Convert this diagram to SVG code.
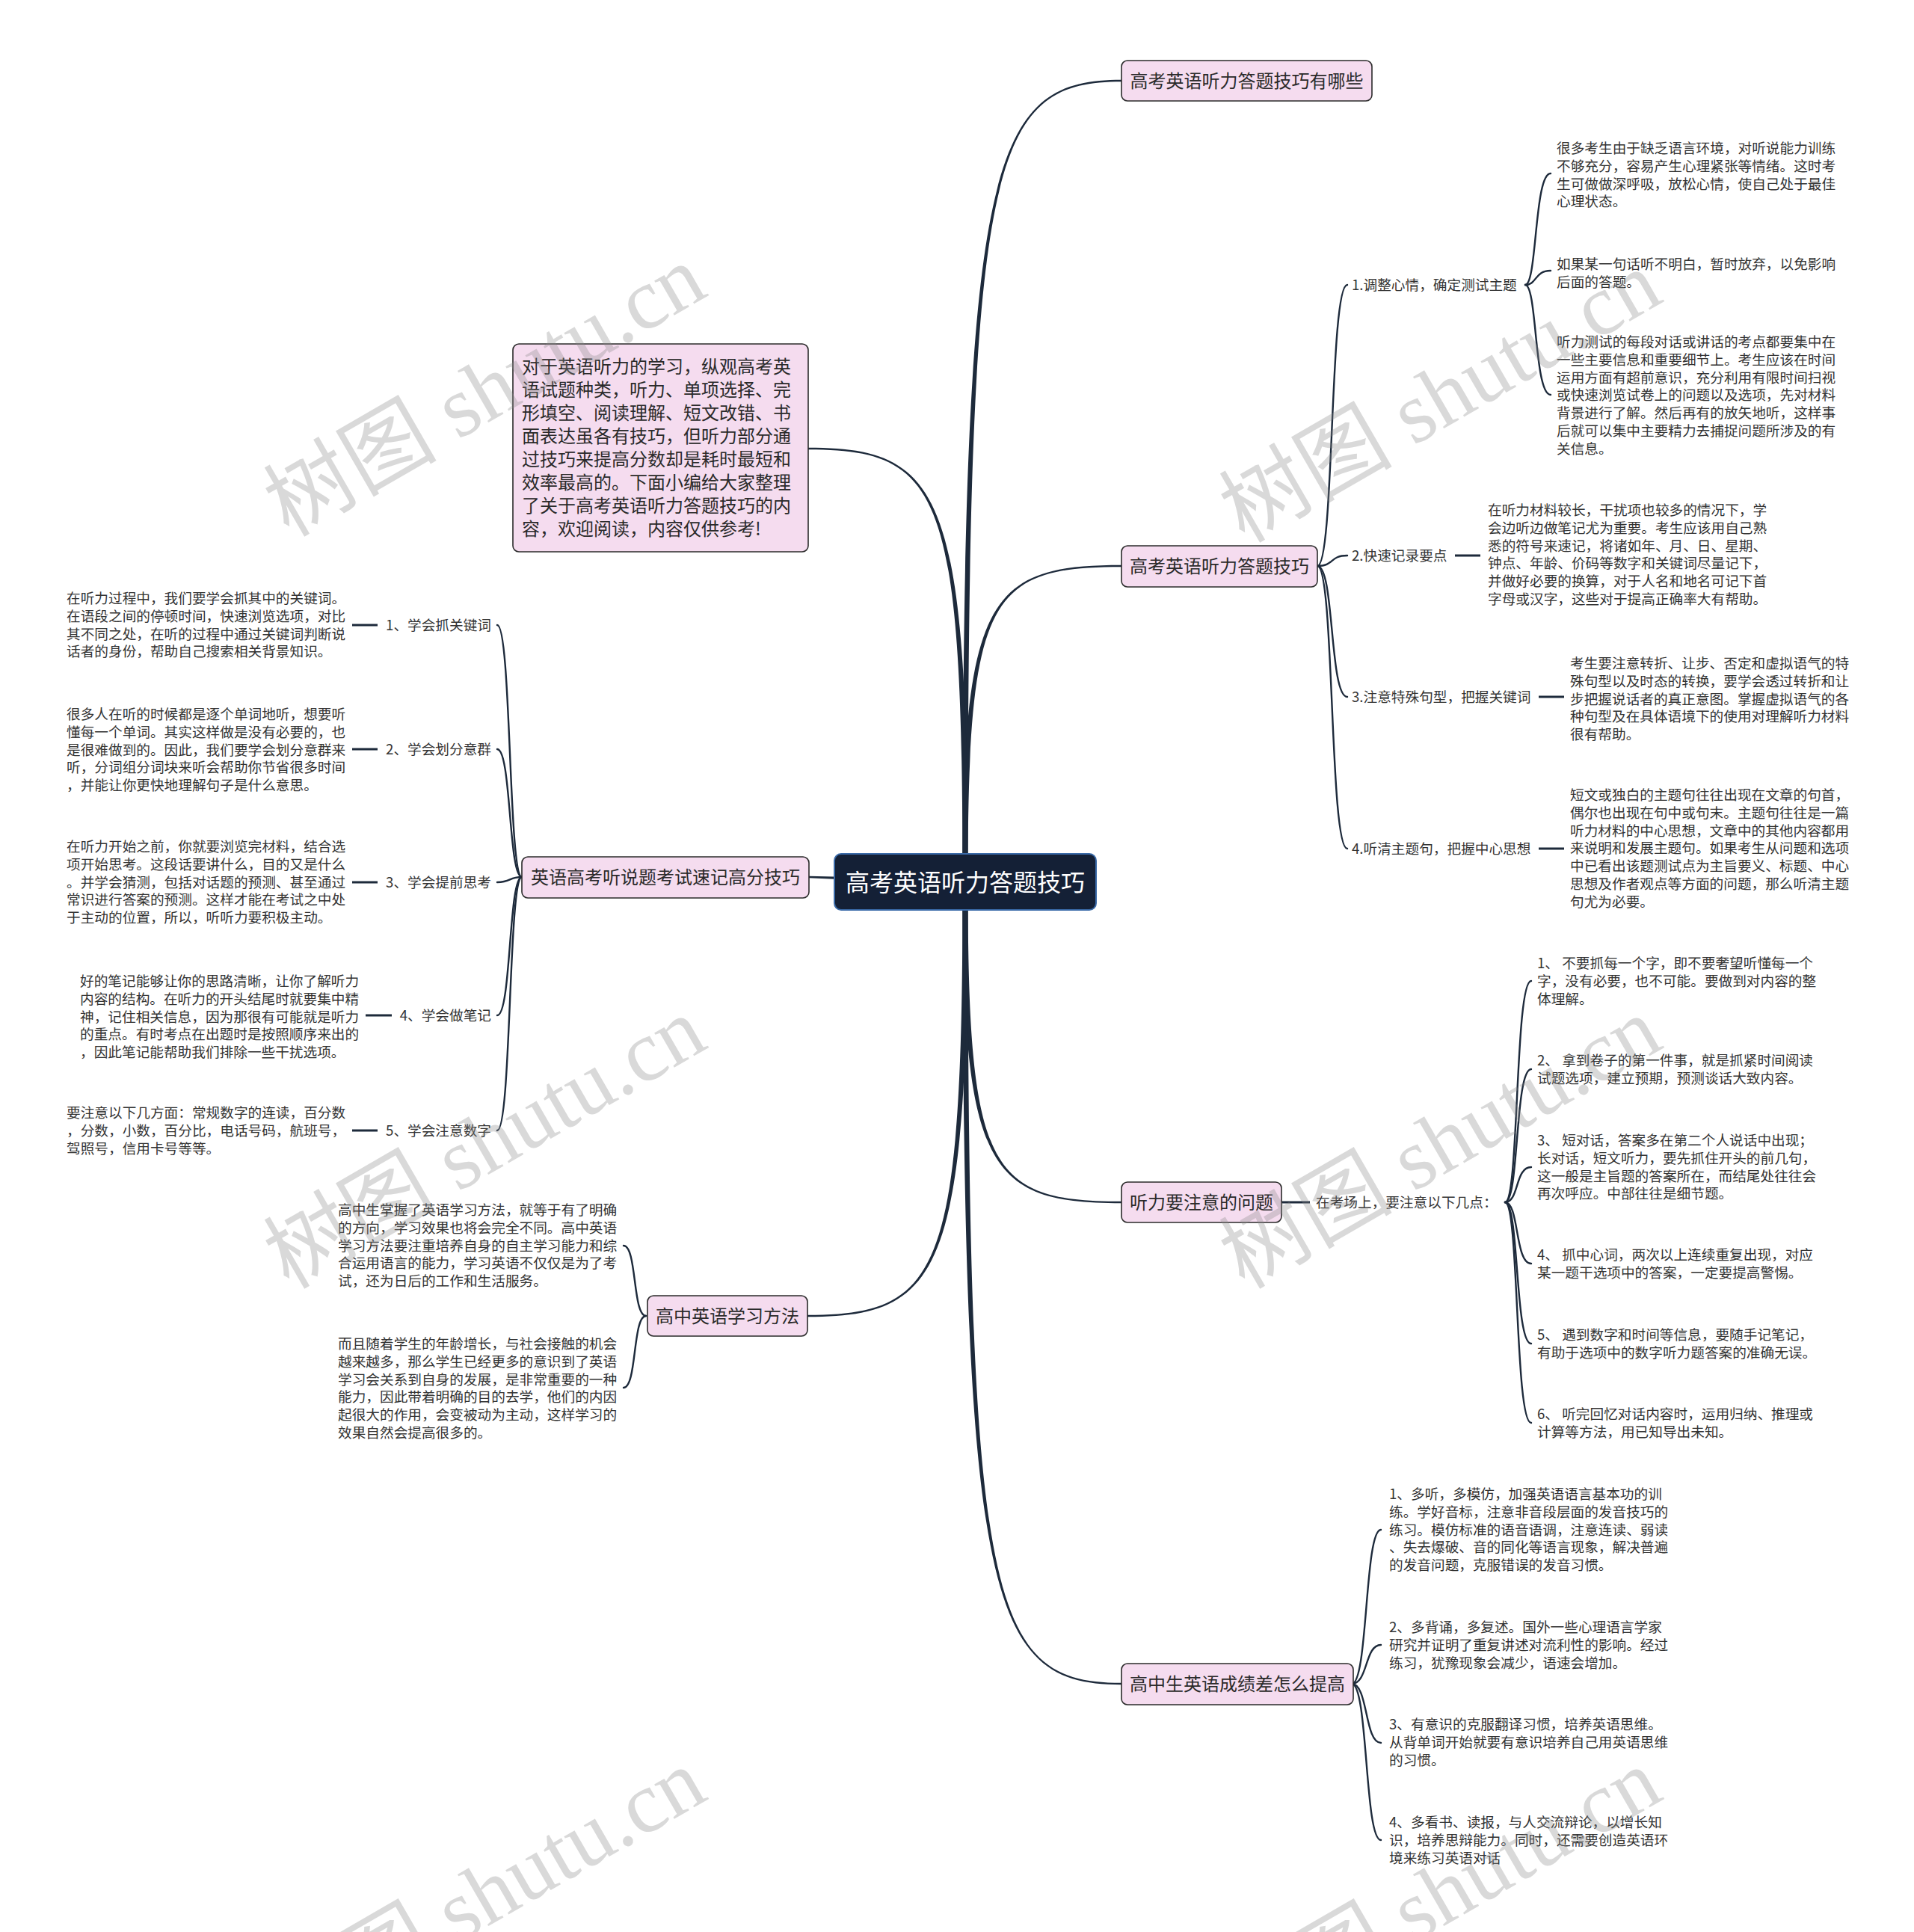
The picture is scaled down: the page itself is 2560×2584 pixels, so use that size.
<svg xmlns="http://www.w3.org/2000/svg" width="2560" height="2584" viewBox="0 0 2560 2584">
<style>
text{font-family:"Noto Sans CJK SC","Noto Sans",sans-serif}
.leaf{font-size:18.67px;fill:#333}
.lbl{font-size:18.67px;fill:#333}
.nt{font-size:24px;fill:#2a2a2a}
.box{fill:#f5dcef;stroke:#2b2b2b;stroke-width:1.6}
.tp{fill:#1d2a3b}
.ln{fill:none;stroke:#1d2a3b;stroke-width:2.4;stroke-linecap:round}
.dash{fill:none;stroke:#1d2a3b;stroke-width:3}
.wm{font-family:"Liberation Serif","Noto Sans CJK SC",serif;font-size:116px;fill:#8a8a8a;fill-opacity:0.32}
</style>
<rect width="2560" height="2584" fill="#fff"/>
<g id="connectors">
<path class="tp" d="M1287.5,1180 C1287.5,215 1322,106.8 1500,106.8 L1500,109.2 C1322,109.2 1294.5,215 1294.5,1180 Z"/>
<path class="tp" d="M1287.5,1180 C1287.5,799 1322,755.8 1500,755.8 L1500,758.2 C1322,758.2 1294.5,799 1294.5,1180 Z"/>
<path class="tp" d="M1287.5,1180 C1287.5,1565 1322,1609.2 1500,1609.2 L1500,1606.8 C1322,1606.8 1294.5,1565 1294.5,1180 Z"/>
<path class="tp" d="M1287.5,1180 C1287.5,2145 1322,2253.2 1500,2253.2 L1500,2250.8 C1322,2250.8 1294.5,2145 1294.5,1180 Z"/>
<path class="tp" d="M1294.5,1180 C1294.5,658 1259.5,598.8 1081,598.8 L1081,601.2 C1259.5,601.2 1287.5,658 1287.5,1180 Z"/>
<path class="tp" d="M1294.5,1180 C1294.5,1702 1259.5,1761.2 1080,1761.2 L1080,1758.8 C1259.5,1758.8 1287.5,1702 1287.5,1180 Z"/>
<path class="tp" d="M1291,1176.5 L1082,1171.8 L1082,1174.2 L1291,1183.5 Z"/>
<path class="ln" d="M1762,757 C1785,757 1778,381 1802,381"/>
<path class="ln" d="M1762,757 C1785,757 1778,743 1802,743"/>
<path class="ln" d="M1762,757 C1785,757 1778,932 1802,932"/>
<path class="ln" d="M1762,757 C1785,757 1778,1135 1802,1135"/>
<path class="ln" d="M2040,381 C2056,381 2052,232 2074,232"/>
<path class="ln" d="M2040,381 C2056,381 2052,362 2074,362"/>
<path class="ln" d="M2040,381 C2056,381 2052,528 2074,528"/>
<path class="dash" d="M1946,743 H1980"/>
<path class="dash" d="M2058,932 H2092"/>
<path class="dash" d="M2058,1135 H2092"/>
<path class="dash" d="M1714,1608 H1752"/>
<path class="ln" d="M2013,1608 C2032,1608 2026,1312 2048,1312"/>
<path class="ln" d="M2013,1608 C2032,1608 2026,1430 2048,1430"/>
<path class="ln" d="M2013,1608 C2032,1608 2026,1561 2048,1561"/>
<path class="ln" d="M2013,1608 C2032,1608 2026,1690 2048,1690"/>
<path class="ln" d="M2013,1608 C2032,1608 2026,1797 2048,1797"/>
<path class="ln" d="M2013,1608 C2032,1608 2026,1903 2048,1903"/>
<path class="ln" d="M1808,2252 C1830,2252 1825,2046 1847,2046"/>
<path class="ln" d="M1808,2252 C1830,2252 1825,2200 1847,2200"/>
<path class="ln" d="M1808,2252 C1830,2252 1825,2331 1847,2331"/>
<path class="ln" d="M1808,2252 C1830,2252 1825,2461 1847,2461"/>
<path class="ln" d="M698,1173 C680,1173 684,836 665,836"/>
<path class="ln" d="M698,1173 C680,1173 684,1002 665,1002"/>
<path class="ln" d="M698,1173 C680,1173 684,1180 665,1180"/>
<path class="ln" d="M698,1173 C680,1173 684,1358 665,1358"/>
<path class="ln" d="M698,1173 C680,1173 684,1512 665,1512"/>
<path class="dash" d="M471,836 H505"/>
<path class="dash" d="M471,1002 H505"/>
<path class="dash" d="M471,1180 H505"/>
<path class="dash" d="M489,1358 H524"/>
<path class="dash" d="M471,1512 H505"/>
<path class="ln" d="M864,1760 C846,1760 852,1666 834,1666"/>
<path class="ln" d="M864,1760 C846,1760 852,1856 834,1856"/>
</g>

<g id="center">
<rect x="1116" y="1142" width="350" height="75" rx="9" fill="#142036" stroke="#3a6aa8" stroke-width="2"/>
<text x="1291" y="1192" text-anchor="middle" font-size="32" fill="#fff">高考英语听力答题技巧</text>
</g>

<g id="n-r1">
<rect class="box" x="1500" y="81" width="335" height="54" rx="8"/>
<text class="nt" x="1667.5" y="117" text-anchor="middle">高考英语听力答题技巧有哪些</text>
</g>

<g id="n-r2">
<rect class="box" x="1500" y="730" width="262" height="55" rx="8"/>
<text class="nt" x="1631" y="766" text-anchor="middle">高考英语听力答题技巧</text>
</g>
<g id="r2-l1">
<text class="lbl" x="1808" y="388">1.调整心情，确定测试主题</text>
</g>
<g id="r2-l1-a">
<text class="leaf" x="2082" y="205"><tspan x="2082">很多考生由于缺乏语言环境，对听说能力训练</tspan><tspan x="2082" dy="23.8">不够充分，容易产生心理紧张等情绪。这时考</tspan><tspan x="2082" dy="23.8">生可做做深呼吸，放松心情，使自己处于最佳</tspan><tspan x="2082" dy="23.8">心理状态。</tspan></text>
</g>
<g id="r2-l1-b">
<text class="leaf" x="2082" y="360"><tspan x="2082">如果某一句话听不明白，暂时放弃，以免影响</tspan><tspan x="2082" dy="23.8">后面的答题。</tspan></text>
</g>
<g id="r2-l1-c">
<text class="leaf" x="2082" y="464"><tspan x="2082">听力测试的每段对话或讲话的考点都要集中在</tspan><tspan x="2082" dy="23.8">一些主要信息和重要细节上。考生应该在时间</tspan><tspan x="2082" dy="23.8">运用方面有超前意识，充分利用有限时间扫视</tspan><tspan x="2082" dy="23.8">或快速浏览试卷上的问题以及选项，先对材料</tspan><tspan x="2082" dy="23.8">背景进行了解。然后再有的放矢地听，这样事</tspan><tspan x="2082" dy="23.8">后就可以集中主要精力去捕捉问题所涉及的有</tspan><tspan x="2082" dy="23.8">关信息。</tspan></text>
</g>
<g id="r2-l2">
<text class="lbl" x="1808" y="750">2.快速记录要点</text>
</g>
<g id="r2-l2-a">
<text class="leaf" x="1990" y="689"><tspan x="1990">在听力材料较长，干扰项也较多的情况下，学</tspan><tspan x="1990" dy="23.8">会边听边做笔记尤为重要。考生应该用自己熟</tspan><tspan x="1990" dy="23.8">悉的符号来速记，将诸如年、月、日、星期、</tspan><tspan x="1990" dy="23.8">钟点、年龄、价码等数字和关键词尽量记下，</tspan><tspan x="1990" dy="23.8">并做好必要的换算，对于人名和地名可记下首</tspan><tspan x="1990" dy="23.8">字母或汉字，这些对于提高正确率大有帮助。</tspan></text>
</g>
<g id="r2-l3">
<text class="lbl" x="1808" y="939">3.注意特殊句型，把握关键词</text>
</g>
<g id="r2-l3-a">
<text class="leaf" x="2100" y="894"><tspan x="2100">考生要注意转折、让步、否定和虚拟语气的特</tspan><tspan x="2100" dy="23.8">殊句型以及时态的转换，要学会透过转折和让</tspan><tspan x="2100" dy="23.8">步把握说话者的真正意图。掌握虚拟语气的各</tspan><tspan x="2100" dy="23.8">种句型及在具体语境下的使用对理解听力材料</tspan><tspan x="2100" dy="23.8">很有帮助。</tspan></text>
</g>
<g id="r2-l4">
<text class="lbl" x="1808" y="1142">4.听清主题句，把握中心思想</text>
</g>
<g id="r2-l4-a">
<text class="leaf" x="2100" y="1070"><tspan x="2100">短文或独白的主题句往往出现在文章的句首，</tspan><tspan x="2100" dy="23.8">偶尔也出现在句中或句末。主题句往往是一篇</tspan><tspan x="2100" dy="23.8">听力材料的中心思想，文章中的其他内容都用</tspan><tspan x="2100" dy="23.8">来说明和发展主题句。如果考生从问题和选项</tspan><tspan x="2100" dy="23.8">中已看出该题测试点为主旨要义、标题、中心</tspan><tspan x="2100" dy="23.8">思想及作者观点等方面的问题，那么听清主题</tspan><tspan x="2100" dy="23.8">句尤为必要。</tspan></text>
</g>

<g id="n-r3">
<rect class="box" x="1500" y="1581" width="214" height="54" rx="8"/>
<text class="nt" x="1607" y="1617" text-anchor="middle">听力要注意的问题</text>
</g>
<g id="r3-l1">
<text class="lbl" x="1760" y="1615">在考场上，要注意以下几点：</text>
</g>
<g id="r3-c1"><text class="leaf" x="2056" y="1295"><tspan x="2056">1、 不要抓每一个字，即不要奢望听懂每一个</tspan><tspan x="2056" dy="23.8">字，没有必要，也不可能。要做到对内容的整</tspan><tspan x="2056" dy="23.8">体理解。</tspan></text></g>
<g id="r3-c2"><text class="leaf" x="2056" y="1425"><tspan x="2056">2、 拿到卷子的第一件事，就是抓紧时间阅读</tspan><tspan x="2056" dy="23.8">试题选项，建立预期，预测谈话大致内容。</tspan></text></g>
<g id="r3-c3"><text class="leaf" x="2056" y="1532"><tspan x="2056">3、 短对话，答案多在第二个人说话中出现；</tspan><tspan x="2056" dy="23.8">长对话，短文听力，要先抓住开头的前几句，</tspan><tspan x="2056" dy="23.8">这一般是主旨题的答案所在，而结尾处往往会</tspan><tspan x="2056" dy="23.8">再次呼应。中部往往是细节题。</tspan></text></g>
<g id="r3-c4"><text class="leaf" x="2056" y="1685"><tspan x="2056">4、 抓中心词，两次以上连续重复出现，对应</tspan><tspan x="2056" dy="23.8">某一题干选项中的答案，一定要提高警惕。</tspan></text></g>
<g id="r3-c5"><text class="leaf" x="2056" y="1792"><tspan x="2056">5、 遇到数字和时间等信息，要随手记笔记，</tspan><tspan x="2056" dy="23.8">有助于选项中的数字听力题答案的准确无误。</tspan></text></g>
<g id="r3-c6"><text class="leaf" x="2056" y="1898"><tspan x="2056">6、 听完回忆对话内容时，运用归纳、推理或</tspan><tspan x="2056" dy="23.8">计算等方法，用已知导出未知。</tspan></text></g>

<g id="n-r4">
<rect class="box" x="1500" y="2225" width="310" height="55" rx="8"/>
<text class="nt" x="1655" y="2261" text-anchor="middle">高中生英语成绩差怎么提高</text>
</g>
<g id="r4-c1"><text class="leaf" x="1858" y="2005"><tspan x="1858">1、多听，多模仿，加强英语语言基本功的训</tspan><tspan x="1858" dy="23.8">练。学好音标，注意非音段层面的发音技巧的</tspan><tspan x="1858" dy="23.8">练习。模仿标准的语音语调，注意连读、弱读</tspan><tspan x="1858" dy="23.8">、失去爆破、音的同化等语言现象，解决普遍</tspan><tspan x="1858" dy="23.8">的发音问题，克服错误的发音习惯。</tspan></text></g>
<g id="r4-c2"><text class="leaf" x="1858" y="2183"><tspan x="1858">2、多背诵，多复述。国外一些心理语言学家</tspan><tspan x="1858" dy="23.8">研究并证明了重复讲述对流利性的影响。经过</tspan><tspan x="1858" dy="23.8">练习，犹豫现象会减少，语速会增加。</tspan></text></g>
<g id="r4-c3"><text class="leaf" x="1858" y="2313"><tspan x="1858">3、有意识的克服翻译习惯，培养英语思维。</tspan><tspan x="1858" dy="23.8">从背单词开始就要有意识培养自己用英语思维</tspan><tspan x="1858" dy="23.8">的习惯。</tspan></text></g>
<g id="r4-c4"><text class="leaf" x="1858" y="2444"><tspan x="1858">4、多看书、读报，与人交流辩论，以增长知</tspan><tspan x="1858" dy="23.8">识，培养思辩能力。同时，还需要创造英语环</tspan><tspan x="1858" dy="23.8">境来练习英语对话</tspan></text></g>

<g id="n-intro">
<rect class="box" x="686" y="460" width="395" height="278" rx="8"/>
<text x="698" y="499" font-size="24" fill="#2a2a2a"><tspan x="698">对于英语听力的学习，纵观高考英</tspan><tspan x="698" dy="31">语试题种类，听力、单项选择、完</tspan><tspan x="698" dy="31">形填空、阅读理解、短文改错、书</tspan><tspan x="698" dy="31">面表达虽各有技巧，但听力部分通</tspan><tspan x="698" dy="31">过技巧来提高分数却是耗时最短和</tspan><tspan x="698" dy="31">效率最高的。下面小编给大家整理</tspan><tspan x="698" dy="31">了关于高考英语听力答题技巧的内</tspan><tspan x="698" dy="31">容，欢迎阅读，内容仅供参考!</tspan></text>
</g>

<g id="n-l2">
<rect class="box" x="698" y="1146" width="384" height="55" rx="8"/>
<text class="nt" x="890" y="1182" text-anchor="middle">英语高考听说题考试速记高分技巧</text>
</g>
<g id="l2-1"><text class="lbl" x="657" y="843" text-anchor="end">1、学会抓关键词</text></g>
<g id="l2-1-a"><text class="leaf" x="89" y="807"><tspan x="89">在听力过程中，我们要学会抓其中的关键词。</tspan><tspan x="89" dy="23.8">在语段之间的停顿时间，快速浏览选项，对比</tspan><tspan x="89" dy="23.8">其不同之处，在听的过程中通过关键词判断说</tspan><tspan x="89" dy="23.8">话者的身份，帮助自己搜索相关背景知识。</tspan></text></g>
<g id="l2-2"><text class="lbl" x="657" y="1009" text-anchor="end">2、学会划分意群</text></g>
<g id="l2-2-a"><text class="leaf" x="89" y="962"><tspan x="89">很多人在听的时候都是逐个单词地听，想要听</tspan><tspan x="89" dy="23.8">懂每一个单词。其实这样做是没有必要的，也</tspan><tspan x="89" dy="23.8">是很难做到的。因此，我们要学会划分意群来</tspan><tspan x="89" dy="23.8">听，分词组分词块来听会帮助你节省很多时间</tspan><tspan x="89" dy="23.8">，并能让你更快地理解句子是什么意思。</tspan></text></g>
<g id="l2-3"><text class="lbl" x="657" y="1187" text-anchor="end">3、学会提前思考</text></g>
<g id="l2-3-a"><text class="leaf" x="89" y="1139"><tspan x="89">在听力开始之前，你就要浏览完材料，结合选</tspan><tspan x="89" dy="23.8">项开始思考。这段话要讲什么，目的又是什么</tspan><tspan x="89" dy="23.8">。并学会猜测，包括对话题的预测、甚至通过</tspan><tspan x="89" dy="23.8">常识进行答案的预测。这样才能在考试之中处</tspan><tspan x="89" dy="23.8">于主动的位置，所以，听听力要积极主动。</tspan></text></g>
<g id="l2-4"><text class="lbl" x="657" y="1365" text-anchor="end">4、学会做笔记</text></g>
<g id="l2-4-a"><text class="leaf" x="107" y="1319"><tspan x="107">好的笔记能够让你的思路清晰，让你了解听力</tspan><tspan x="107" dy="23.8">内容的结构。在听力的开头结尾时就要集中精</tspan><tspan x="107" dy="23.8">神，记住相关信息，因为那很有可能就是听力</tspan><tspan x="107" dy="23.8">的重点。有时考点在出题时是按照顺序来出的</tspan><tspan x="107" dy="23.8">，因此笔记能帮助我们排除一些干扰选项。</tspan></text></g>
<g id="l2-5"><text class="lbl" x="657" y="1519" text-anchor="end">5、学会注意数字</text></g>
<g id="l2-5-a"><text class="leaf" x="89" y="1495"><tspan x="89">要注意以下几方面：常规数字的连读，百分数</tspan><tspan x="89" dy="23.8">，分数，小数，百分比，电话号码，航班号，</tspan><tspan x="89" dy="23.8">驾照号，信用卡号等等。</tspan></text></g>

<g id="n-l3">
<rect class="box" x="866" y="1733" width="214" height="54" rx="8"/>
<text class="nt" x="973" y="1769" text-anchor="middle">高中英语学习方法</text>
</g>
<g id="l3-1"><text class="leaf" x="452" y="1625"><tspan x="452">高中生掌握了英语学习方法，就等于有了明确</tspan><tspan x="452" dy="23.8">的方向，学习效果也将会完全不同。高中英语</tspan><tspan x="452" dy="23.8">学习方法要注重培养自身的自主学习能力和综</tspan><tspan x="452" dy="23.8">合运用语言的能力，学习英语不仅仅是为了考</tspan><tspan x="452" dy="23.8">试，还为日后的工作和生活服务。</tspan></text></g>
<g id="l3-2"><text class="leaf" x="452" y="1804"><tspan x="452">而且随着学生的年龄增长，与社会接触的机会</tspan><tspan x="452" dy="23.8">越来越多，那么学生已经更多的意识到了英语</tspan><tspan x="452" dy="23.8">学习会关系到自身的发展，是非常重要的一种</tspan><tspan x="452" dy="23.8">能力，因此带着明确的目的去学，他们的内因</tspan><tspan x="452" dy="23.8">起很大的作用，会变被动为主动，这样学习的</tspan><tspan x="452" dy="23.8">效果自然会提高很多的。</tspan></text></g>

<g id="watermarks">
<text class="wm" transform="translate(648,522) rotate(-30)" x="0" y="40" text-anchor="middle">树图 shutu.cn</text>
<text class="wm" transform="translate(1926,530) rotate(-30)" x="0" y="40" text-anchor="middle">树图 shutu.cn</text>
<text class="wm" transform="translate(648,1528) rotate(-30)" x="0" y="40" text-anchor="middle">树图 shutu.cn</text>
<text class="wm" transform="translate(1926,1528) rotate(-30)" x="0" y="40" text-anchor="middle">树图 shutu.cn</text>
<text class="wm" transform="translate(648,2533) rotate(-30)" x="0" y="40" text-anchor="middle">树图 shutu.cn</text>
<text class="wm" transform="translate(1926,2533) rotate(-30)" x="0" y="40" text-anchor="middle">树图 shutu.cn</text>
</g>
</svg>
